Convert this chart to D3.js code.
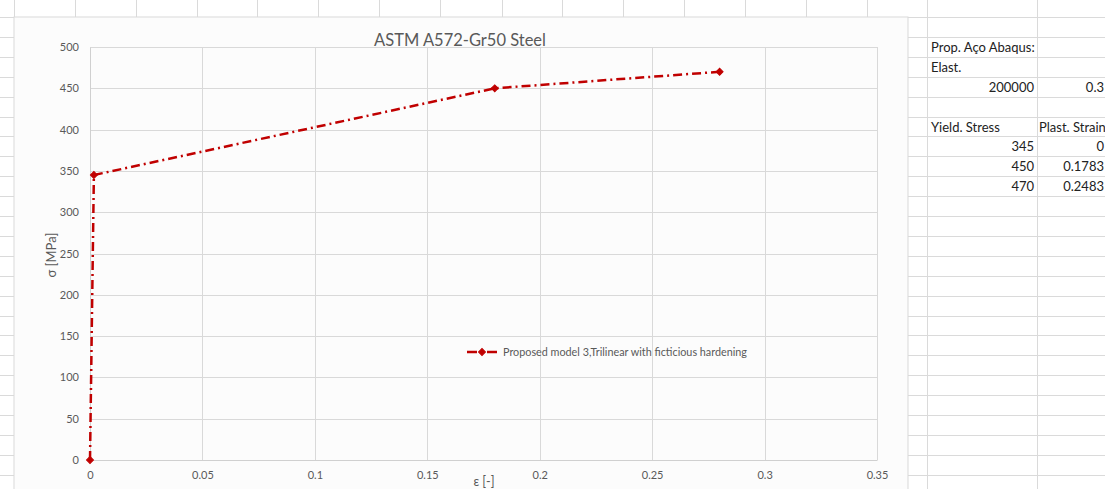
<!DOCTYPE html>
<html><head><meta charset="utf-8">
<script src="https://cdn.jsdelivr.net/npm/d3@7/dist/d3.min.js"></script>
<style>
html,body{margin:0;padding:0;background:#fff;}
svg{display:block;}
text{font-family:Lato,"Open Sans",sans-serif;}
</style></head>
<body>
<svg id="c" width="1105" height="489"></svg>
<script>
// ---- data ----
const strain = [0, 0.001725, 0.18, 0.28];
const stress = [0, 345, 450, 470];
const seriesName = "Proposed model 3,Trilinear with ficticious hardening";
const xTicks = [0, 0.05, 0.1, 0.15, 0.2, 0.25, 0.3, 0.35];
const yTicks = [0, 50, 100, 150, 200, 250, 300, 350, 400, 450, 500];
const chartTitle = "ASTM A572-Gr50 Steel";
const xTitle = "ε [-]";
const yTitle = "σ [MPa]";
// side spreadsheet cells: [row index, column, text, align]
const sheetRows = [
  [1, "A", "Prop. Aço Abaqus:", "start"],
  [2, "A", "Elast.", "start"],
  [3, "A", "200000", "end"],
  [3, "B", "0.3", "end"],
  [5, "A", "Yield. Stress", "start"],
  [5, "B", "Plast. Strain", "start"],
  [6, "A", "345", "end"],
  [6, "B", "0", "end"],
  [7, "A", "450", "end"],
  [7, "B", "0.1783", "end"],
  [8, "A", "470", "end"],
  [8, "B", "0.2483", "end"]
];

const svg = d3.select("#c");
const W = 1105, H = 489;
const gridCol = "#d9d9d9", textCol = "#595959", red = "#C00000";

// ---- spreadsheet background ----
const rowTop = 17, rowH = 19.9;
const colLines = [14,75,136,197,257,318,379,440,502,562,623,684,745,806,867,927,1037];
const sheet = svg.append("g");
colLines.forEach(x => sheet.append("line").attr("x1",x+0.5).attr("x2",x+0.5).attr("y1",0).attr("y2",rowTop).attr("stroke","#dadada"));
sheet.append("line").attr("x1",0).attr("x2",W).attr("y1",rowTop+0.5).attr("y2",rowTop+0.5).attr("stroke","#dadada");
for (let i = 1; i < 25; i++) {
  const yy = Math.round(rowTop + i*rowH) + 0.5;
  sheet.append("line").attr("x1",0).attr("x2",14).attr("y1",yy).attr("y2",yy).attr("stroke","#dadada");
  sheet.append("line").attr("x1",908).attr("x2",W).attr("y1",yy).attr("y2",yy).attr("stroke","#dadada");
}
[927,1037].forEach(x => sheet.append("line").attr("x1",x+0.5).attr("x2",x+0.5).attr("y1",rowTop).attr("y2",H).attr("stroke","#dadada"));
const colX = {A:{start:931,end:1034}, B:{start:1039,end:1104}};
sheetRows.forEach(([r,c,t,a]) => {
  sheet.append("text").attr("x",colX[c][a]).attr("y",rowTop + r*rowH + 15)
    .attr("text-anchor",a).attr("font-size",13).attr("fill","#222").text(t);
});

// ---- chart area ----
svg.append("rect").attr("x",14).attr("y",17).attr("width",894).attr("height",480)
  .attr("fill","#fcfcfc").attr("stroke","#d9d9d9");

const x = d3.scaleLinear().domain([0,0.35]).range([90,877]);
const y = d3.scaleLinear().domain([0,500]).range([460,47]);

const g = svg.append("g");
g.selectAll(".gy").data(yTicks).join("line")
  .attr("x1",x(0)).attr("x2",x(0.35)).attr("y1",d=>Math.round(y(d))+0.5).attr("y2",d=>Math.round(y(d))+0.5)
  .attr("stroke",gridCol).attr("stroke-width",1);
g.selectAll(".gx").data(xTicks).join("line")
  .attr("y1",y(0)).attr("y2",y(500)).attr("x1",d=>Math.round(x(d))+0.5).attr("x2",d=>Math.round(x(d))+0.5)
  .attr("stroke",gridCol).attr("stroke-width",1);

const yAxis = d3.axisLeft(y).tickValues(yTicks).tickSize(0).tickPadding(11).tickFormat(d3.format("d"));
const ya = svg.append("g").attr("transform","translate(90,0)").call(yAxis);
ya.select(".domain").attr("stroke","#d0d0d0");
ya.selectAll("text").attr("font-size",11).attr("fill",textCol).attr("font-family","Lato");

const xAxis = d3.axisBottom(x).tickValues(xTicks).tickSize(0).tickPadding(11).tickFormat(d => d === 0 ? "0" : String(+d.toFixed(2)));
const xa = svg.append("g").attr("transform","translate(0,460)").call(xAxis);
xa.select(".domain").attr("stroke","#d0d0d0");
xa.selectAll("text").attr("font-size",11).attr("fill",textCol).attr("font-family","Lato");

svg.append("text").attr("x",460).attr("y",46).attr("text-anchor","middle").attr("font-size",16.5).attr("fill",textCol).text(chartTitle);
svg.append("text").attr("x",484).attr("y",486).attr("text-anchor","middle").attr("font-size",12.5).attr("fill",textCol).text(xTitle);
svg.append("text").attr("transform","translate(56,255) rotate(-90)").attr("text-anchor","middle").attr("font-size",13).attr("fill",textCol).text(yTitle);

// series
const pts = strain.map((s,i)=>[s, stress[i]]);
const line = d3.line().x(d=>x(d[0])).y(d=>y(d[1]));
svg.append("path").attr("d",line(pts)).attr("fill","none").attr("stroke",red)
  .attr("stroke-width",2.5).attr("stroke-dasharray","9,4,2,4");
const diamond = d3.symbol().type(d3.symbolSquare).size(24);
svg.selectAll(".mk").data(pts).join("path")
  .attr("transform",d=>`translate(${x(d[0])},${y(d[1])}) rotate(45)`).attr("d",diamond).attr("fill",red).attr("stroke",red);

// legend
const lg = svg.append("g").attr("transform","translate(467,352)");
lg.append("line").attr("x1",0).attr("x2",10).attr("stroke",red).attr("stroke-width",2.5);
lg.append("line").attr("x1",20).attr("x2",30).attr("stroke",red).attr("stroke-width",2.5);
lg.append("path").attr("transform","translate(15,0) rotate(45)").attr("d",diamond).attr("fill",red).attr("stroke",red);
lg.append("text").attr("x",36).attr("y",4).attr("font-size",10.8).attr("fill",textCol).text(seriesName);
</script>
</body></html>
